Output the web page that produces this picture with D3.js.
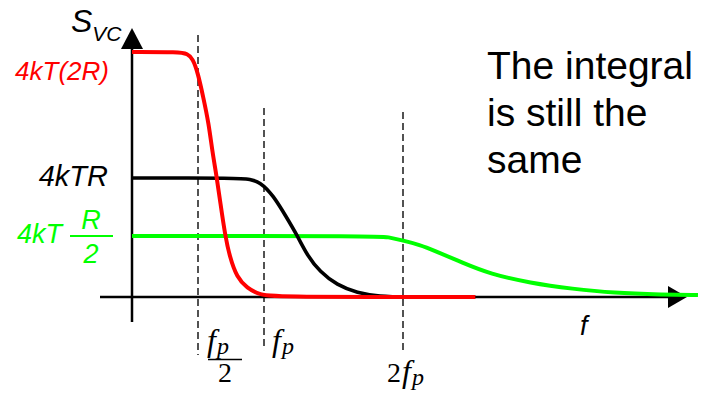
<!DOCTYPE html>
<html>
<head>
<meta charset="utf-8">
<script src="https://cdn.jsdelivr.net/npm/d3@7/dist/d3.min.js"></script>
<style>
  html, body { margin: 0; padding: 0; background: #fff; }
  svg { display: block; }
</style>
</head>
<body>
<svg id="chart" width="704" height="394"></svg>
<script>
// Frequency is in units of f_p, noise density S_VC in units of 4kT·R.
const fMarks = [0.5, 1, 2];
const fMarkLabels = ["f_p/2", "f_p", "2f_p"];
const levelLabels = ["4kT(2R)", "4kTR", "4kT R/2"];

// Resistance 2R: pole at f_p/2
const curve2R = [
  [0, 2.0], [0.36, 2.0], [0.42, 1.985], [0.46, 1.95], [0.5, 1.83], [0.54, 1.64],
  [0.58, 1.44], [0.61, 1.2], [0.64, 1.02], [0.67, 0.78], [0.705, 0.51], [0.74, 0.33],
  [0.795, 0.16], [0.87, 0.074], [0.97, 0.016], [1.09, 0], [2.56, 0]
];
// Resistance R: pole at f_p
const curveR = [
  [0, 1.0], [0.82, 1.0], [0.89, 0.99], [0.97, 0.966], [1.065, 0.853], [1.165, 0.655],
  [1.237, 0.509], [1.309, 0.344], [1.403, 0.205], [1.525, 0.098], [1.669, 0.033],
  [1.835, 0.004], [2.0, 0], [2.56, 0]
];
// Resistance R/2: pole at 2f_p
const curveHalfR = [
  [0, 0.5], [1.835, 0.5], [1.885, 0.492], [2.0, 0.463], [2.132, 0.426], [2.232, 0.385],
  [2.465, 0.279], [2.674, 0.189], [2.984, 0.115], [3.317, 0.066], [3.627, 0.033],
  [4.014, 0.02], [4.285, 0.016]
];

const RED = "#ff0000", GREEN = "#00ff00", BLACK = "#000000";
const SANS = "'Liberation Sans', Arial, sans-serif";
const SERIF = "'Liberation Serif', 'Times New Roman', serif";

const svg = d3.select("#chart");

// Sketch-style axes: piecewise-linear to follow the drawn spacing
const x = d3.scaleLinear().domain([0, 1, 2, 4.2]).range([132, 264, 403, 687]);
const y = d3.scaleLinear().domain([0, 0.5, 1, 2]).range([297, 236, 178, 52]);

const x0 = x(0), y0 = y(0), xEnd = x(4.2);

// Dashed guides at the pole frequencies (top / bottom extents)
const guideTop = [35, 108, 112];
const guideBottom = [355, 348, 352];
svg.selectAll("line.guide").data(fMarks).join("line")
  .attr("class", "guide")
  .attr("x1", d => x(d)).attr("x2", d => x(d))
  .attr("y1", (d, i) => guideTop[i]).attr("y2", (d, i) => guideBottom[i])
  .attr("stroke", "#1a1a1a").attr("stroke-width", 1.5)
  .attr("stroke-dasharray", "7,4");

// Axes with arrowheads
const axes = svg.append("g").attr("stroke", BLACK).attr("fill", BLACK);
axes.append("line").attr("x1", 100).attr("x2", xEnd - 10)
  .attr("y1", y0).attr("y2", y0).attr("stroke-width", 2.5);
axes.append("line").attr("x1", x0).attr("x2", x0)
  .attr("y1", y0 + 25).attr("y2", 44).attr("stroke-width", 2.5);
axes.append("path").attr("stroke", "none")
  .attr("d", `M${x0 - 11},${49} L${x0},${28} L${x0 + 11},${49} Z`);
axes.append("path").attr("stroke", "none")
  .attr("d", `M${xEnd - 19},${y0 - 11} L${xEnd},${y0} L${xEnd - 19},${y0 + 11} Z`);

// Spectral density curves
const line = d3.line().x(d => x(d[0])).y(d => y(d[1])).curve(d3.curveBasis);
const series = [
  { data: curveHalfR, color: GREEN, w: 4 },
  { data: curveR, color: BLACK, w: 3.6 },
  { data: curve2R, color: RED, w: 4 }
];
svg.selectAll("path.curve").data(series).join("path")
  .attr("class", "curve")
  .attr("d", d => line(d.data))
  .attr("fill", "none")
  .attr("stroke", d => d.color)
  .attr("stroke-width", d => d.w)
  .attr("stroke-linejoin", "round");

// Y axis title S_VC
const yt = svg.append("text").attr("font-family", SANS).attr("font-style", "italic")
  .attr("x", 71).attr("y", 32);
yt.append("tspan").attr("font-size", 32).text("S");
yt.append("tspan").attr("font-size", 21).attr("dy", 9).text("VC");

// Level labels
svg.append("text").attr("font-family", SANS).attr("font-style", "italic")
  .attr("font-size", 26).attr("fill", RED).attr("text-anchor", "end")
  .attr("x", 109).attr("y", y(2) + 28).text(levelLabels[0]);
svg.append("text").attr("font-family", SANS).attr("font-style", "italic")
  .attr("font-size", 29).attr("fill", BLACK).attr("text-anchor", "end")
  .attr("x", 108).attr("y", y(1) + 8).text(levelLabels[1]);

const gl = svg.append("g").attr("fill", GREEN).attr("font-family", SANS)
  .attr("font-style", "italic").attr("font-size", 27);
gl.append("text").attr("x", 17).attr("y", y(0.5) + 7).text("4kT");
gl.append("text").attr("x", 91).attr("y", y(0.5) - 7).attr("text-anchor", "middle").text("R");
gl.append("text").attr("x", 91).attr("y", y(0.5) + 27).attr("text-anchor", "middle").text("2");
gl.append("line").attr("x1", 70).attr("x2", 113)
  .attr("y1", y(0.5)).attr("y2", y(0.5)).attr("stroke", GREEN).attr("stroke-width", 1.8);

// Frequency axis label
svg.append("text").attr("font-family", SANS).attr("font-style", "italic")
  .attr("font-size", 27).attr("x", 580).attr("y", 335).text("f");

// Pole frequency labels (math style)
const math = svg.append("g").attr("font-family", SERIF).attr("fill", BLACK);
// f_p / 2
const n1 = math.append("text").attr("x", 207).attr("y", 351).attr("font-style", "italic");
n1.append("tspan").attr("font-size", 32).text("f");
n1.append("tspan").attr("font-size", 24).attr("dy", 3).attr("dx", 1).text("p");
math.append("line").attr("x1", 208).attr("x2", 242).attr("y1", 359.5).attr("y2", 359.5)
  .attr("stroke", BLACK).attr("stroke-width", 1.4);
math.append("text").attr("x", 225).attr("y", 382).attr("text-anchor", "middle")
  .attr("font-size", 28).text("2");
// f_p
const n2 = math.append("text").attr("x", 272).attr("y", 351).attr("font-style", "italic");
n2.append("tspan").attr("font-size", 32).text("f");
n2.append("tspan").attr("font-size", 24).attr("dy", 3).attr("dx", 1).text("p");
// 2 f_p
const n3 = math.append("text").attr("x", 387).attr("y", 382);
n3.append("tspan").attr("font-size", 28).text("2");
n3.append("tspan").attr("font-size", 32).attr("font-style", "italic").attr("dx", 1).text("f");
n3.append("tspan").attr("font-size", 24).attr("font-style", "italic").attr("dy", 3).attr("dx", 1).text("p");

// Annotation
const note = ["The integral", "is still the", "same"];
svg.append("g").attr("font-family", SANS).attr("font-size", 39).attr("fill", BLACK)
  .selectAll("text").data(note).join("text")
  .attr("x", 487).attr("y", (d, i) => 79 + i * 47).text(d => d);
</script>
</body>
</html>
